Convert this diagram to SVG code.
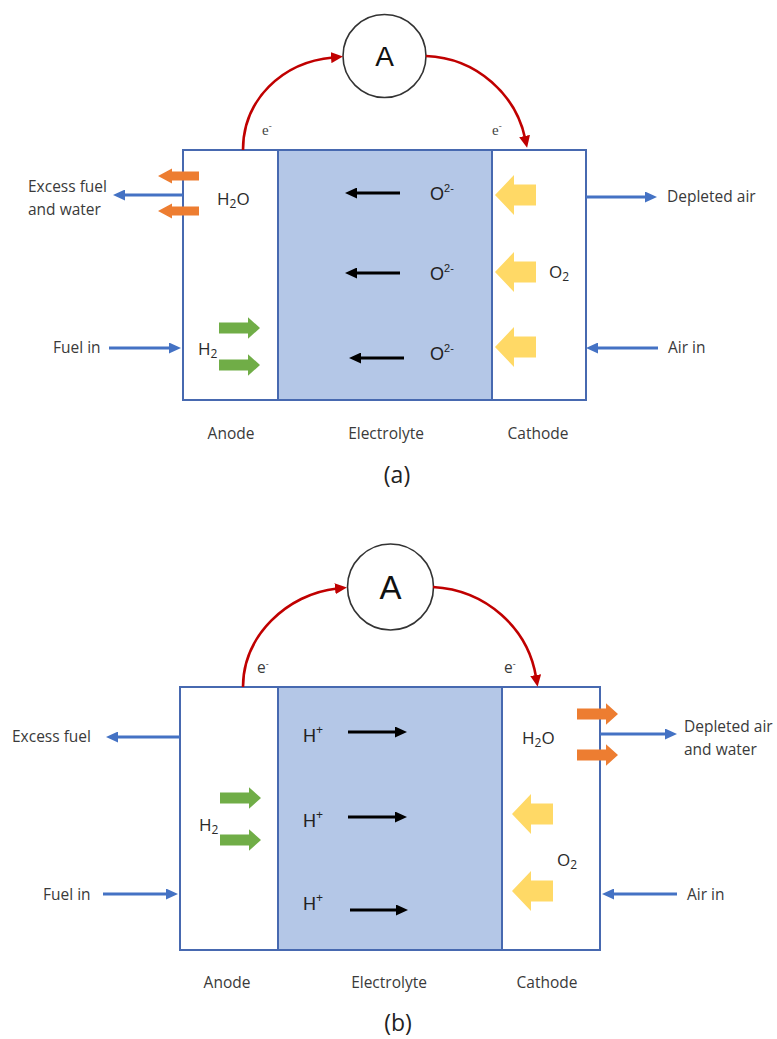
<svg xmlns="http://www.w3.org/2000/svg" width="777" height="1039" viewBox="0 0 777 1039">
  <style>
    .lbl { font-family: "Open Sans", "Liberation Sans", sans-serif; font-size: 15.5px; fill: #3a3a3a; }
    .chem { font-family: "Open Sans", "Liberation Sans", sans-serif; font-size: 17px; fill: #2a2a2a; }
    .ion { font-family: "Liberation Sans", Arial, sans-serif; font-size: 18px; fill: #222; }
    .cap { font-family: "Open Sans", "Liberation Sans", sans-serif; font-size: 23px; fill: #222; text-anchor: middle; }
    .mid { text-anchor: middle; }
    .cell { fill: #ffffff; stroke: #4769b0; stroke-width: 2; }
    .elec { fill: #b4c7e7; stroke: #4769b0; stroke-width: 2; }
    .meter { fill: #ffffff; stroke: #333333; stroke-width: 1.6; }
    .meterA { font-family: "Liberation Sans", Arial, sans-serif; fill: #111; text-anchor: middle; }
    .wire { fill: none; stroke: #c00000; stroke-width: 2.6; marker-end: url(#redHead); }
    .flow { fill: none; stroke: #4472c4; stroke-width: 3; marker-end: url(#blueHead); }
    .ionflow { fill: none; stroke: #000; stroke-width: 3; marker-end: url(#blackHead); }
    .orange { fill: #ed7d31; }
    .green { fill: #70ad47; }
    .yellow { fill: #ffd966; }
    .sub { font-size: 12px; }
  </style>
  <defs>
    <marker id="redHead" viewBox="0 0 12 11" refX="2" refY="5.5" markerWidth="12" markerHeight="11" markerUnits="userSpaceOnUse" orient="auto">
      <path d="M0,0 L12,5.5 L0,11 Z" fill="#c00000"/>
    </marker>
    <marker id="blueHead" viewBox="0 0 12 11" refX="2" refY="5.5" markerWidth="12" markerHeight="11" markerUnits="userSpaceOnUse" orient="auto">
      <path d="M0,0 L12,5.5 L0,11 Z" fill="#4472c4"/>
    </marker>
    <marker id="blackHead" viewBox="0 0 12 11" refX="2" refY="5.5" markerWidth="12" markerHeight="11" markerUnits="userSpaceOnUse" orient="auto">
      <path d="M0,0 L12,5.5 L0,11 Z" fill="#000"/>
    </marker>
    <!-- block arrows, drawn pointing right with the tail at x=0 -->
    <path id="arrowSmall" d="M0,-4.5 H27 V-7.5 L41,0 L27,7.5 V4.5 H0 Z"/>
    <path id="arrowMid" d="M0,-5.5 H29 V-10.8 L41,0 L29,10.8 V5.5 H0 Z"/>
    <path id="arrowWide" d="M0,-10.5 H22 V-20 L41,0 L22,20 V10.5 H0 Z"/>
  </defs>

  <!-- ===================== (a) ===================== -->
  <g id="a-cell">
    <rect class="cell" x="183" y="150" width="403" height="250"/>
    <rect class="elec" x="278" y="150" width="214" height="250"/>
  </g>

  <g id="a-ammeter">
    <circle class="meter" cx="384.5" cy="56" r="41.5"/>
    <text class="meterA" x="384.5" y="66" font-size="28">A</text>
  </g>

  <g id="a-anode">
    <text class="chem" x="217" y="205">H<tspan class="sub" dy="3">2</tspan><tspan dy="-3">O</tspan></text>
    <text class="chem" x="198" y="355">H<tspan class="sub" dy="3">2</tspan></text>
    <use href="#arrowSmall" class="orange" transform="translate(199,176) scale(-1,1)"/>
    <use href="#arrowSmall" class="orange" transform="translate(199,211) scale(-1,1)"/>
    <use href="#arrowMid" class="green" transform="translate(219,328)"/>
    <use href="#arrowMid" class="green" transform="translate(219,365)"/>
  </g>

  <g id="a-electrolyte">
    <text class="ion" x="430" y="200">O<tspan font-size="11" dy="-8">2-</tspan></text>
    <text class="ion" x="430" y="280">O<tspan font-size="11" dy="-8">2-</tspan></text>
    <text class="ion" x="430" y="360">O<tspan font-size="11" dy="-8">2-</tspan></text>
  </g>

  <g id="a-cathode">
    <text class="chem" x="549" y="278">O<tspan class="sub" dy="3">2</tspan></text>
    <use href="#arrowWide" class="yellow" transform="translate(536,195) scale(-1,1)"/>
    <use href="#arrowWide" class="yellow" transform="translate(536,272) scale(-1,1)"/>
    <use href="#arrowWide" class="yellow" transform="translate(536,347) scale(-1,1)"/>
  </g>

  <g id="a-streams">
    <text class="lbl" x="28" y="192">Excess fuel</text>
    <text class="lbl" x="28" y="215">and water</text>
    <text class="lbl" x="53" y="353">Fuel in</text>
    <text class="lbl" x="667" y="202">Depleted air</text>
    <text class="lbl" x="668" y="353">Air in</text>
  </g>

  <g id="a-electrons">
    <text x="262" y="135" font-family="Liberation Serif, serif" font-size="15" fill="#444">e<tspan font-size="9" dy="-6">-</tspan></text>
    <text x="492" y="135" font-family="Liberation Serif, serif" font-size="15" fill="#444">e<tspan font-size="9" dy="-6">-</tspan></text>
  </g>

  <g id="a-labels">
    <text class="lbl mid" x="231" y="439">Anode</text>
    <text class="lbl mid" x="386" y="439">Electrolyte</text>
    <text class="lbl mid" x="538" y="439">Cathode</text>
    <text class="cap" x="397" y="483">(a)</text>
  </g>

  <g id="a-connectors">
    <path class="wire" d="M243,150 C243,100 282,62 333,57.5"/>
    <path class="wire" d="M426,56 C478,58 516,96 525,138"/>
    <path class="flow" d="M183,195 H123"/>
    <path class="flow" d="M109,348 H171"/>
    <path class="flow" d="M586,197 H647"/>
    <path class="flow" d="M658,348 H596"/>
    <path class="ionflow" d="M400,193 H355"/>
    <path class="ionflow" d="M400,273 H355"/>
    <path class="ionflow" d="M404,358 H359"/>
  </g>

  <!-- ===================== (b) ===================== -->
  <g id="b-cell">
    <rect class="cell" x="180" y="687" width="420" height="263"/>
    <rect class="elec" x="278" y="687" width="224" height="263"/>
  </g>

  <g id="b-ammeter">
    <circle class="meter" cx="390.5" cy="587" r="43"/>
    <text class="meterA" x="390.5" y="599" font-size="33">A</text>
  </g>

  <g id="b-anode">
    <text class="chem" x="199" y="831">H<tspan class="sub" dy="3">2</tspan></text>
    <use href="#arrowMid" class="green" transform="translate(220,798)"/>
    <use href="#arrowMid" class="green" transform="translate(220,840)"/>
  </g>

  <g id="b-electrolyte">
    <text class="ion" x="303" y="742">H<tspan font-size="12" dy="-8">+</tspan></text>
    <text class="ion" x="303" y="827">H<tspan font-size="12" dy="-8">+</tspan></text>
    <text class="ion" x="303" y="910">H<tspan font-size="12" dy="-8">+</tspan></text>
  </g>

  <g id="b-cathode">
    <text class="chem" x="522" y="744">H<tspan class="sub" dy="3">2</tspan><tspan dy="-3">O</tspan></text>
    <text class="chem" x="557" y="866">O<tspan class="sub" dy="3">2</tspan></text>
    <use href="#arrowMid" class="orange" transform="translate(577,714)"/>
    <use href="#arrowMid" class="orange" transform="translate(577,755)"/>
    <use href="#arrowWide" class="yellow" transform="translate(553,814) scale(-1,1)"/>
    <use href="#arrowWide" class="yellow" transform="translate(553,891) scale(-1,1)"/>
  </g>

  <g id="b-streams">
    <text class="lbl" x="12" y="742">Excess fuel</text>
    <text class="lbl" x="43" y="900">Fuel in</text>
    <text class="lbl" x="684" y="732">Depleted air</text>
    <text class="lbl" x="684" y="755">and water</text>
    <text class="lbl" x="687" y="900">Air in</text>
  </g>

  <g id="b-electrons">
    <text class="lbl" x="257" y="673" font-size="15">e<tspan font-size="9" dy="-6">-</tspan></text>
    <text class="lbl" x="504" y="673" font-size="15">e<tspan font-size="9" dy="-6">-</tspan></text>
  </g>

  <g id="b-labels">
    <text class="lbl mid" x="227" y="988">Anode</text>
    <text class="lbl mid" x="389" y="988">Electrolyte</text>
    <text class="lbl mid" x="547" y="988">Cathode</text>
    <text class="cap" x="398" y="1031">(b)</text>
  </g>

  <g id="b-connectors">
    <path class="wire" d="M243,687 C243,636 287,594 337,588.5"/>
    <path class="wire" d="M433,587 C486,590 528,628 536,677"/>
    <path class="flow" d="M180,737 H116"/>
    <path class="flow" d="M103,894 H168"/>
    <path class="flow" d="M600,734 H667"/>
    <path class="flow" d="M677,894 H612"/>
    <path class="ionflow" d="M348,732 H397"/>
    <path class="ionflow" d="M348,817 H397"/>
    <path class="ionflow" d="M350,910 H398"/>
  </g>
</svg>
